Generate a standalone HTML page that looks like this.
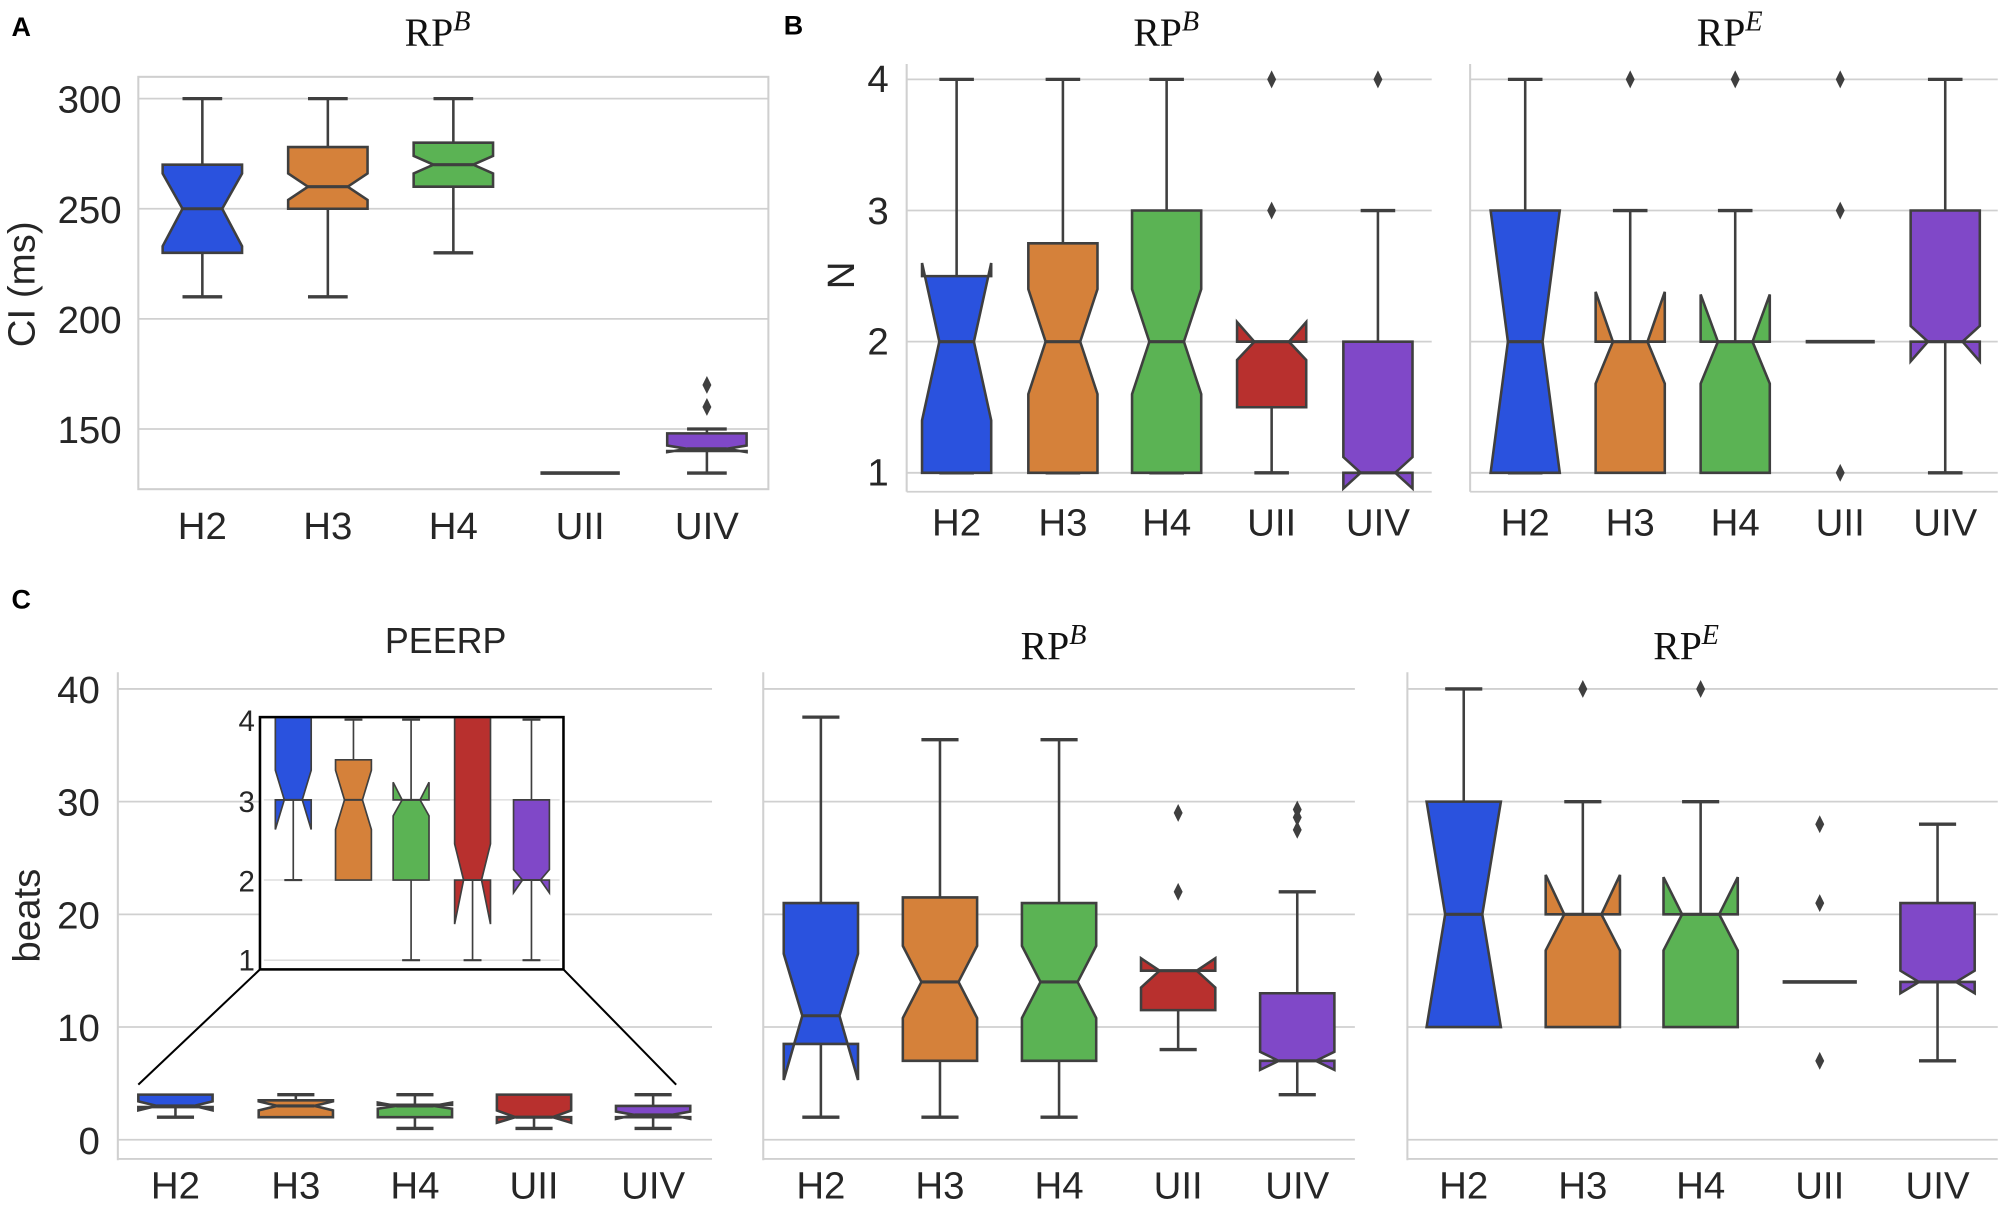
<!DOCTYPE html>
<html><head><meta charset="utf-8">
<style>
html,body{margin:0;padding:0;background:#fff;}
svg{display:block;}
text{font-family:"Liberation Sans",sans-serif;fill:#262626;}
.t{font-size:30px;}
.s{font-family:"Liberation Serif",serif;font-size:31px;fill:#111;}
.lab{font-size:21px;font-weight:bold;fill:#000;}
</style></head>
<body>
<svg id="svg" width="2008" height="1214" viewBox="0 0 1568 948" xmlns="http://www.w3.org/2000/svg">
<rect width="1568" height="948" fill="#fff"/>
<g id="grid"></g>
<g id="shapes"></g>
<text class="lab" x="9" y="28">A</text>
<text class="lab" x="612" y="27">B</text>
<text class="lab" x="9" y="475">C</text>
<text class="s" x="316" y="36">RP<tspan font-style="italic" font-size="22" dy="-12">B</tspan></text>
<text class="s" x="885" y="36">RP<tspan font-style="italic" font-size="22" dy="-12">B</tspan></text>
<text class="s" x="1325" y="36">RP<tspan font-style="italic" font-size="22" dy="-12">E</tspan></text>
<text x="348" y="510" font-size="28" text-anchor="middle" fill="#000">PEERP</text>
<text class="s" x="797" y="515">RP<tspan font-style="italic" font-size="22" dy="-12">B</tspan></text>
<text class="s" x="1291" y="515">RP<tspan font-style="italic" font-size="22" dy="-12">E</tspan></text>
<g class="t" text-anchor="end">
<text x="95" y="88">300</text><text x="95" y="174">250</text><text x="95" y="260">200</text><text x="95" y="346">150</text>
</g>
<text class="t" transform="translate(27,222) rotate(-90)" text-anchor="middle" font-size="25">CI (ms)</text>
<g class="t" text-anchor="middle">
<text x="158" y="421">H2</text><text x="256" y="421">H3</text><text x="354" y="421">H4</text><text x="453" y="421">UII</text><text x="552" y="421">UIV</text>
</g>
<g class="t" text-anchor="end" font-size="26">
<text x="694" y="72">4</text><text x="694" y="175">3</text><text x="694" y="277">2</text><text x="694" y="379">1</text>
</g>
<text class="t" transform="translate(667,215) rotate(-90)" text-anchor="middle" font-size="27">N</text>
<g class="t" text-anchor="middle" font-size="27">
<text x="747" y="418">H2</text><text x="830" y="418">H3</text><text x="911" y="418">H4</text><text x="993" y="418">UII</text><text x="1076" y="418">UIV</text>
<text x="1191" y="418">H2</text><text x="1273" y="418">H3</text><text x="1355" y="418">H4</text><text x="1437" y="418">UII</text><text x="1519" y="418">UIV</text>
</g>
<g class="t" text-anchor="end" font-size="31">
<text x="78" y="549">40</text><text x="78" y="637">30</text><text x="78" y="725">20</text><text x="78" y="813">10</text><text x="78" y="901">0</text>
</g>
<text class="t" transform="translate(31,715) rotate(-90)" text-anchor="middle" font-size="34">beats</text>
<g class="t" text-anchor="middle">
<text x="137" y="936">H2</text><text x="231" y="936">H3</text><text x="324" y="936">H4</text><text x="417" y="936">UII</text><text x="510" y="936">UIV</text>
<text x="641" y="936">H2</text><text x="734" y="936">H3</text><text x="827" y="936">H4</text><text x="920" y="936">UII</text><text x="1013" y="936">UIV</text>
<text x="1143" y="936">H2</text><text x="1236" y="936">H3</text><text x="1328" y="936">H4</text><text x="1421" y="936">UII</text><text x="1513" y="936">UIV</text>
</g>
<g id="inset"></g>
<g font-size="23" text-anchor="end" fill="#000">
<text x="199" y="571">4</text><text x="199" y="634">3</text><text x="199" y="696">2</text><text x="199" y="758">1</text>
</g>
</svg>
<script>
var NS="http://www.w3.org/2000/svg";
function el(parent,tag,attrs){var e=document.createElementNS(NS,tag);for(var k in attrs)e.setAttribute(k,attrs[k]);document.getElementById(parent).appendChild(e);return e;}
var C={b:"#2a52de",o:"#d5813a",g:"#5bb354",r:"#b8302e",p:"#8048c8"};
var E="#3f3f3f";
function hline(g,x1,x2,y){el(g,"line",{x1:x1,x2:x2,y1:y,y2:y,stroke:"#d0d0d0","stroke-width":1.4});}
function vline(g,x,y1,y2,c){el(g,"line",{x1:x,x2:x,y1:y1,y2:y2,stroke:c||"#d0d0d0","stroke-width":1.6});}
[300,250,200,150].forEach(function(v){hline("grid",108,600,77+(300-v)*1.72);});
el("grid","rect",{x:108,y:60,width:492,height:322,fill:"none",stroke:"#cfcfcf","stroke-width":1.6});
function yB(v){return 62+(4-v)*102.4;}
[4,3,2,1].forEach(function(v){hline("grid",708,1118,yB(v));hline("grid",1148,1560,yB(v));});
vline("grid",708,50,384);vline("grid",1148,50,384);
hline("grid",708,1118,384);hline("grid",1148,1560,384);
function yC(v){return 890-v*8.8;}
[40,30,20,10,0].forEach(function(v){hline("grid",92,556,yC(v));hline("grid",596,1058,yC(v));hline("grid",1099,1560,yC(v));});
vline("grid",92,525,906);vline("grid",596,525,906);vline("grid",1099,525,906);
hline("grid",92,556,905);hline("grid",596,1058,905);hline("grid",1099,1560,905);

function box(g,cx,w,Y,d,lw){
  lw=lw||2;var l=cx-w/2,r=cx+w/2,cw=w/4;
  if(d.whi!=null){el(g,"line",{x1:cx,x2:cx,y1:Y(d.q3),y2:Y(d.whi),stroke:E,"stroke-width":lw});el(g,"line",{x1:cx-cw,x2:cx+cw,y1:Y(d.whi),y2:Y(d.whi),stroke:E,"stroke-width":lw*1.3});}
  if(d.wlo!=null){el(g,"line",{x1:cx,x2:cx,y1:Y(d.q1),y2:Y(d.wlo),stroke:E,"stroke-width":lw});el(g,"line",{x1:cx-cw,x2:cx+cw,y1:Y(d.wlo),y2:Y(d.wlo),stroke:E,"stroke-width":lw*1.3});}
  if(d.line){el(g,"line",{x1:l,x2:r,y1:Y(d.med),y2:Y(d.med),stroke:E,"stroke-width":lw*1.4});}
  else{
  var nl=d.nlo,nh=d.nhi,m=d.med;
  var pts=[[l,d.q1],[l,nl],[l+cw,m],[l,nh],[l,d.q3],[r,d.q3],[r,nh],[r-cw,m],[r,nl],[r,d.q1]];
  el(g,"polygon",{points:pts.map(function(p){return p[0]+","+Y(p[1]);}).join(" "),fill:d.c,stroke:E,"stroke-width":lw,"stroke-linejoin":"miter"});
  el(g,"line",{x1:l+cw,x2:r-cw,y1:Y(m),y2:Y(m),stroke:E,"stroke-width":lw*1.2});
  }
  (d.fl||[]).forEach(function(f){var y=Y(f);el(g,"polygon",{points:(cx)+","+(y-7)+" "+(cx+3.5)+","+y+" "+cx+","+(y+7)+" "+(cx-3.5)+","+y,fill:E});});
}
function yA(v){return 77+(300-v)*1.72;}
var xa=[158,256,354,453,552],wa=62;
box("shapes",xa[0],wa,yA,{q1:230,q3:270,med:250,nlo:233,nhi:266,wlo:210,whi:300,c:C.b});
box("shapes",xa[1],wa,yA,{q1:250,q3:278,med:260,nlo:254,nhi:266,wlo:210,whi:300,c:C.o});
box("shapes",xa[2],wa,yA,{q1:260,q3:280,med:270,nlo:266,nhi:274,wlo:230,whi:300,c:C.g});
box("shapes",xa[3],wa,yA,{line:1,med:130});
box("shapes",xa[4],wa,yA,{q1:140,q3:148,med:141,nlo:139.5,nhi:142.5,wlo:130,whi:150,fl:[160,170],c:C.p});
var xb=[747,830,911,993,1076],wb=54;
box("shapes",xb[0],wb,yB,{q1:1,q3:2.5,med:2,nlo:1.4,nhi:2.6,wlo:1,whi:4,c:C.b});
box("shapes",xb[1],wb,yB,{q1:1,q3:2.75,med:2,nlo:1.6,nhi:2.4,wlo:1,whi:4,c:C.o});
box("shapes",xb[2],wb,yB,{q1:1,q3:3,med:2,nlo:1.6,nhi:2.4,wlo:1,whi:4,c:C.g});
box("shapes",xb[3],wb,yB,{q1:1.5,q3:2,med:2,nlo:1.86,nhi:2.15,wlo:1,whi:null,fl:[3,4],c:C.r});
box("shapes",xb[4],wb,yB,{q1:1,q3:2,med:1,nlo:0.88,nhi:1.12,wlo:null,whi:3,fl:[4],c:C.p});
var xb2=[1191,1273,1355,1437,1519];
box("shapes",xb2[0],wb,yB,{q1:1,q3:3,med:2,nlo:1,nhi:3,wlo:1,whi:4,c:C.b});
box("shapes",xb2[1],wb,yB,{q1:1,q3:2,med:2,nlo:1.68,nhi:2.38,wlo:null,whi:3,fl:[4],c:C.o});
box("shapes",xb2[2],wb,yB,{q1:1,q3:2,med:2,nlo:1.68,nhi:2.36,wlo:null,whi:3,fl:[4],c:C.g});
box("shapes",xb2[3],wb,yB,{line:1,med:2,fl:[1,3,4]});
box("shapes",xb2[4],wb,yB,{q1:2,q3:3,med:2,nlo:1.85,nhi:2.12,wlo:1,whi:4,c:C.p});
var xc=[137,231,324,417,510],wc=58;
box("shapes",xc[0],wc,yC,{q1:2.9,q3:4,med:3,nlo:2.6,nhi:3.4,wlo:2,whi:null,c:C.b});
box("shapes",xc[1],wc,yC,{q1:2,q3:3.5,med:3,nlo:2.6,nhi:3.4,wlo:null,whi:4,c:C.o});
box("shapes",xc[2],wc,yC,{q1:2,q3:3.1,med:3,nlo:2.75,nhi:3.3,wlo:1,whi:4,c:C.g});
box("shapes",xc[3],wc,yC,{q1:2,q3:4,med:2,nlo:1.5,nhi:2.6,wlo:1,whi:null,c:C.r});
box("shapes",xc[4],wc,yC,{q1:2,q3:3,med:2.2,nlo:1.85,nhi:2.5,wlo:1,whi:4,c:C.p});
el("shapes","line",{x1:203,y1:757,x2:108,y2:847,stroke:"#000","stroke-width":1.6});
el("shapes","line",{x1:440,y1:757,x2:528,y2:847,stroke:"#000","stroke-width":1.6});
el("inset","rect",{x:203,y:560,width:237,height:197,fill:"#fff"});
function yI(v){return 562+(4-v)*62.6;}
[3,2,1].forEach(function(v){el("inset","line",{x1:206,x2:437,y1:yI(v),y2:yI(v),stroke:"#d8d8d8","stroke-width":1});});
var cp=el("inset","clipPath",{id:"cl"});var cr=document.createElementNS(NS,"rect");cr.setAttribute("x",204);cr.setAttribute("y",561);cr.setAttribute("width",235);cr.setAttribute("height",195);cp.appendChild(cr);
var gi=el("inset","g",{"clip-path":"url(#cl)",id:"ig"});
var xi=[229,276,321,369,415],wi=28;
box("ig",xi[0],wi,yI,{q1:3,q3:4.3,med:3,nlo:2.63,nhi:3.37,wlo:2,whi:null,c:C.b},1.3);
box("ig",xi[1],wi,yI,{q1:2,q3:3.5,med:3,nlo:2.63,nhi:3.37,wlo:null,whi:4,c:C.o},1.3);
box("ig",xi[2],wi,yI,{q1:2,q3:3,med:3,nlo:2.8,nhi:3.22,wlo:1,whi:4,c:C.g},1.3);
box("ig",xi[3],wi,yI,{q1:2,q3:4.3,med:2,nlo:1.45,nhi:2.45,wlo:1,whi:null,c:C.r},1.3);
box("ig",xi[4],wi,yI,{q1:2,q3:3,med:2,nlo:1.84,nhi:2.13,wlo:1,whi:4,c:C.p},1.3);
el("inset","rect",{x:203,y:560,width:237,height:197,fill:"none",stroke:"#000","stroke-width":2});
var xm=[641,734,827,920,1013];
box("shapes",xm[0],wc,yC,{q1:8.5,q3:21,med:11,nlo:5.3,nhi:16.5,wlo:2,whi:37.5,c:C.b});
box("shapes",xm[1],wc,yC,{q1:7,q3:21.5,med:14,nlo:10.8,nhi:17.2,wlo:2,whi:35.5,c:C.o});
box("shapes",xm[2],wc,yC,{q1:7,q3:21,med:14,nlo:10.8,nhi:17.2,wlo:2,whi:35.5,c:C.g});
box("shapes",xm[3],wc,yC,{q1:11.5,q3:15,med:15,nlo:13.5,nhi:16.1,wlo:8,whi:null,fl:[22,29],c:C.r});
box("shapes",xm[4],wc,yC,{q1:7,q3:13,med:7,nlo:6.2,nhi:7.8,wlo:4,whi:22,fl:[27.5,28.6,29.3],c:C.p});
var xr=[1143,1236,1328,1421,1513];
box("shapes",xr[0],wc,yC,{q1:10,q3:30,med:20,nlo:10,nhi:30,wlo:null,whi:40,c:C.b});
box("shapes",xr[1],wc,yC,{q1:10,q3:20,med:20,nlo:16.8,nhi:23.5,wlo:null,whi:30,fl:[40],c:C.o});
box("shapes",xr[2],wc,yC,{q1:10,q3:20,med:20,nlo:16.8,nhi:23.3,wlo:null,whi:30,fl:[40],c:C.g});
box("shapes",xr[3],wc,yC,{line:1,med:14,fl:[7,21,28]});
box("shapes",xr[4],wc,yC,{q1:14,q3:21,med:14,nlo:13,nhi:15,wlo:7,whi:28,c:C.p});
</script>
</body></html>
